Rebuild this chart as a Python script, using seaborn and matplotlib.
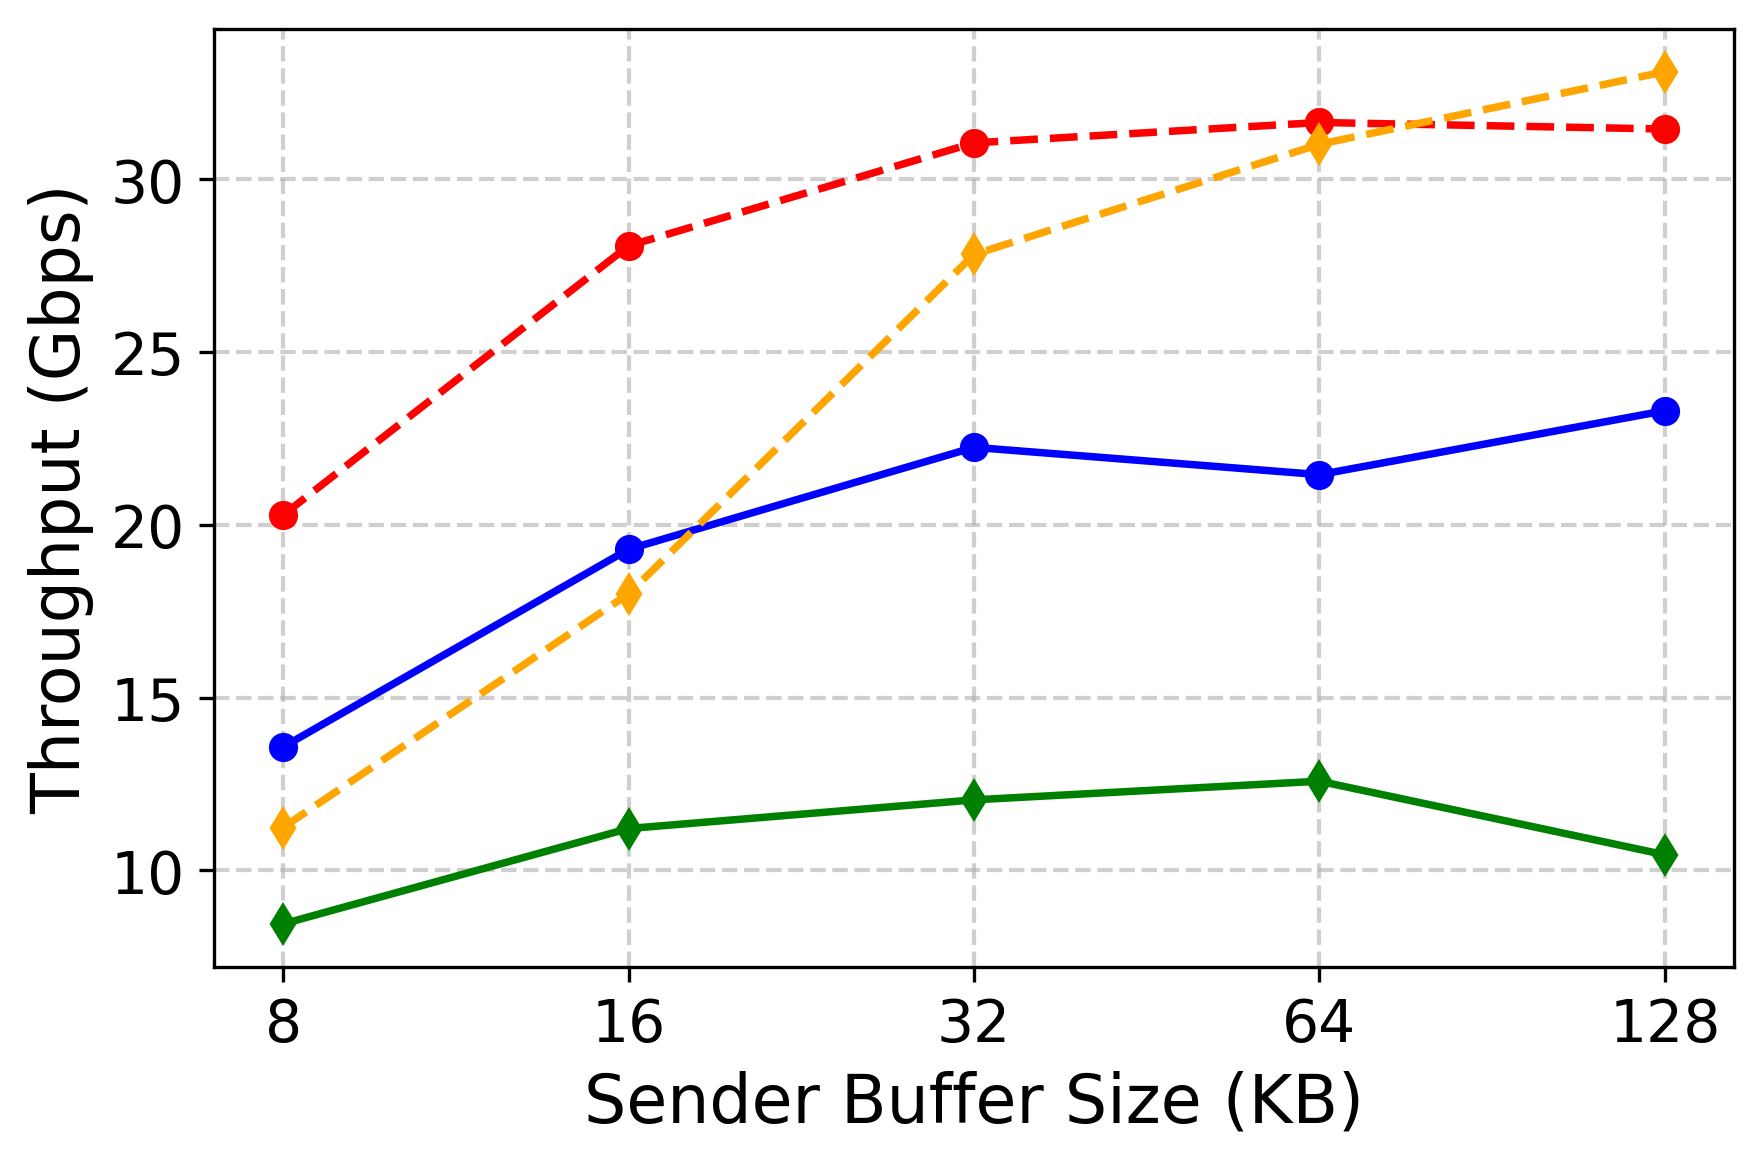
import pandas as pd
import seaborn as sns
import matplotlib.pyplot as plt
from matplotlib.ticker import FixedLocator, FixedFormatter, NullLocator

# === Data ===
buffer_kb = [8, 16, 32, 64, 128]
tick_labels = ["8", "16", "32", "64", "128"]

red_dashed = [20.28, 28.07, 31.05, 31.64, 31.45]
blue_solid = [13.57, 19.29, 22.24, 21.45, 23.30]
orange_dashed = [11.24, 18.00, 27.82, 31.01, 33.11]
green_solid = [8.45, 11.21, 12.04, 12.58, 10.45]

series = [
    (red_dashed, "red", "o", "--"),
    (blue_solid, "blue", "o", "-"),
    (orange_dashed, "orange", "d", "--"),
    (green_solid, "green", "d", "-"),
]

# === Plot ===
plt.rcParams["font.family"] = ["DejaVu Sans"]
fig = plt.figure(figsize=(5.88, 3.8833), dpi=300)
ax = fig.add_axes([0.1213, 0.1695, 0.983 - 0.1213, 0.9742 - 0.1695])

for vals, color, marker, ls in series:
    df = pd.DataFrame({"buffer": buffer_kb, "throughput": vals})
    sns.lineplot(
        data=df, x="buffer", y="throughput", ax=ax,
        color=color, marker=marker, linestyle=ls, linewidth=1.8,
        markersize=6, markeredgecolor=color, markeredgewidth=1,
    )

ax.set_xscale("log", base=2)
ax.xaxis.set_major_locator(FixedLocator(buffer_kb))
ax.xaxis.set_major_formatter(FixedFormatter(tick_labels))
ax.xaxis.set_minor_locator(NullLocator())

ax.grid(True, linestyle="--", linewidth=1.0, color="#b0b0b0", alpha=0.6)
ax.set_axisbelow(True)
ax.tick_params(labelsize=14)
ax.set_xlabel("Sender Buffer Size (KB)", fontsize=16)
ax.set_ylabel("Throughput (Gbps)", fontsize=16)

fig.savefig("out.png", dpi=300)
